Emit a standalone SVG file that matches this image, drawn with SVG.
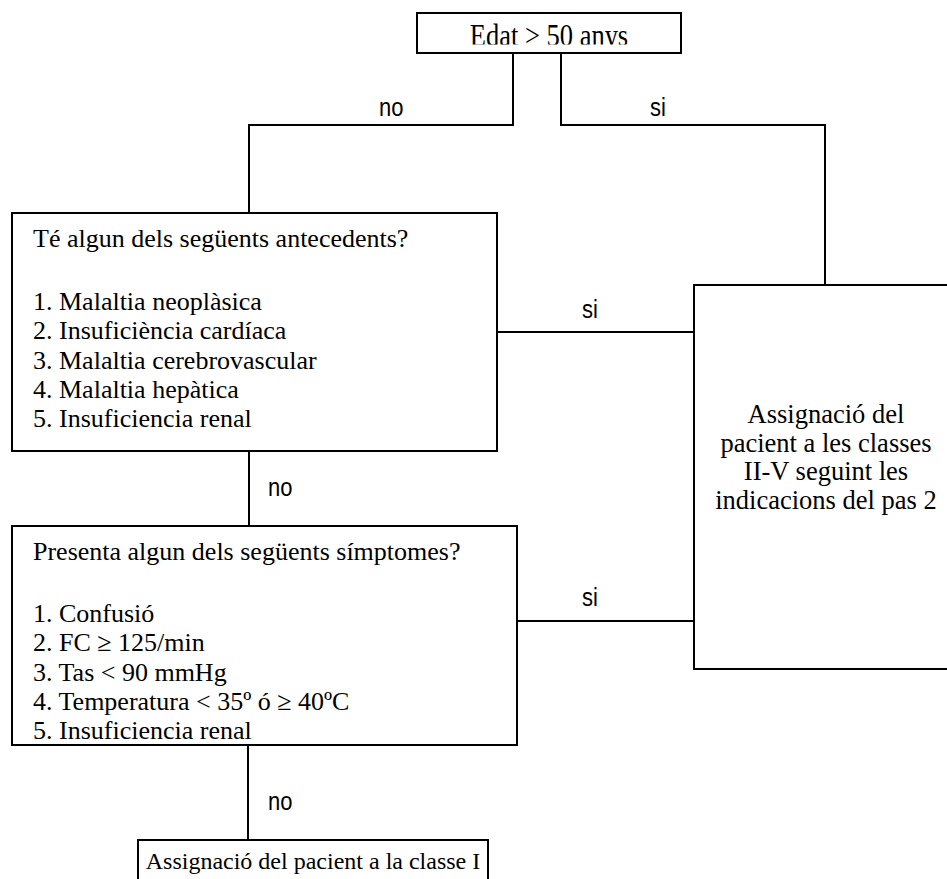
<svg xmlns="http://www.w3.org/2000/svg" width="947" height="879" viewBox="0 0 947 879">
<style>
.box{fill:#fff;stroke:#000;stroke-width:2}
.ln{fill:none;stroke:#000;stroke-width:2}
.t{font-family:"Liberation Serif","Times New Roman",serif;font-size:26px;fill:#000}
.r{font-size:26.5px}
.c{text-anchor:middle}
.lb{font-family:"Liberation Sans",Arial,sans-serif;font-size:22px;fill:#000}
</style>
<defs>
<clipPath id="clipEdat"><rect x="418" y="14" width="262" height="30.5"/></clipPath>
</defs>
<rect width="947" height="879" fill="#fff"/>
<g id="connectors">
<polyline class="ln" points="513,53 513,125 249,125 249,213"/>
<polyline class="ln" points="561,53 561,125 825,125 825,285"/>
<line class="ln" x1="497" y1="332" x2="694" y2="332"/>
<line class="ln" x1="517" y1="621" x2="694" y2="621"/>
<line class="ln" x1="249" y1="451" x2="249" y2="526"/>
<line class="ln" x1="248" y1="745" x2="248" y2="840"/>
<text class="lb" transform="translate(379,116) scale(1,1.2)">no</text>
<text class="lb" transform="translate(650,116) scale(1,1.2)">si</text>
<text class="lb" transform="translate(582,318) scale(1,1.2)">si</text>
<text class="lb" transform="translate(582,606) scale(1,1.2)">si</text>
<text class="lb" transform="translate(268,496) scale(1,1.2)">no</text>
<text class="lb" transform="translate(268,810) scale(1,1.2)">no</text>
</g>
<g id="n-edat">
<rect class="box" x="417" y="13" width="264" height="40"/>
<g clip-path="url(#clipEdat)">
<text class="t c r" transform="translate(549,45.6) scale(1,1.23)">Edat &gt; 50 anys</text>
</g>
</g>
<g id="n-antecedents">
<rect class="box" x="12" y="213" width="485" height="238"/>
<text class="t" x="33" y="247">Té algun dels següents antecedents?</text>
<text class="t" x="33" y="310">1. Malaltia neoplàsica</text>
<text class="t" x="33" y="339">2. Insuficiència cardíaca</text>
<text class="t" x="33" y="369">3. Malaltia cerebrovascular</text>
<text class="t" x="33" y="398">4. Malaltia hepàtica</text>
<text class="t" x="33" y="427">5. Insuficiencia renal</text>
</g>
<g id="n-simptomes">
<rect class="box" x="12" y="526" width="505" height="219"/>
<text class="t" x="33" y="560">Presenta algun dels següents símptomes?</text>
<text class="t" x="33" y="622">1. Confusió</text>
<text class="t" x="33" y="651">2. FC ≥ 125/min</text>
<text class="t" x="33" y="681">3. Tas &lt; 90 mmHg</text>
<text class="t" x="33" y="710">4. Temperatura &lt; 35º ó ≥ 40ºC</text>
<text class="t" x="33" y="739">5. Insuficiencia renal</text>
</g>
<g id="n-classes">
<rect class="box" x="694" y="285" width="262" height="384"/>
<text class="t c r" x="826" y="423">Assignació del</text>
<text class="t c r" x="826" y="452">pacient a les classes</text>
<text class="t c r" x="826" y="480">II-V seguint les</text>
<text class="t c r" x="826" y="509">indicacions del pas 2</text>
</g>
<g id="n-classe1">
<rect class="box" x="138" y="840" width="350" height="60"/>
<text class="t c" style="font-size:24px" x="313" y="869">Assignació del pacient a la classe I</text>
</g>
</svg>
